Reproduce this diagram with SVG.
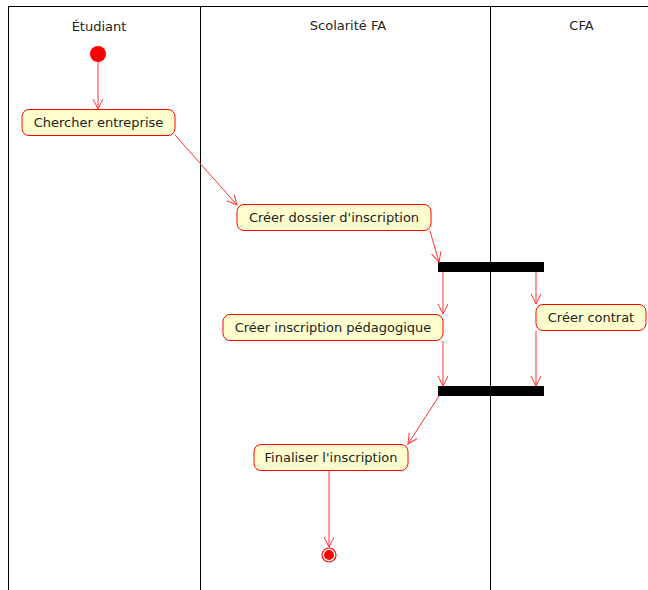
<svg xmlns="http://www.w3.org/2000/svg" width="648" height="590" viewBox="0 0 648 590">
<defs>
<style>
.lane{stroke:#000;stroke-width:1;fill:none}
.title{font-family:"DejaVu Sans",sans-serif;font-size:13px;fill:#222;text-anchor:middle}
.act rect{fill:#fefece;stroke:#ff0000;stroke-width:1}
.act text{font-family:"DejaVu Sans",sans-serif;font-size:13px;fill:#222;text-anchor:middle}
.bar{fill:#000}
.conn line{stroke:#ff3333;stroke-width:1;fill:none;marker-end:url(#ah)}
</style>
<marker id="ah" markerWidth="14" markerHeight="12" refX="10" refY="5" orient="auto" markerUnits="userSpaceOnUse">
<path d="M0,0 L10,5 L0,10" fill="none" stroke="#ff3333" stroke-width="1"/>
</marker>
</defs>
<rect width="648" height="590" fill="#fff"/>
<g id="lanes">
<line class="lane" x1="8" y1="6.5" x2="648" y2="6.5"/>
<line class="lane" x1="8.5" y1="6" x2="8.5" y2="590"/>
<line class="lane" x1="200.5" y1="6" x2="200.5" y2="590"/>
<line class="lane" x1="490.5" y1="6" x2="490.5" y2="590"/>
<text class="title" x="99" y="31">Étudiant</text>
<text class="title" x="348" y="30">Scolarité FA</text>
<text class="title" x="581.5" y="30">CFA</text>
</g>
<g id="start"><circle cx="98" cy="54" r="8" fill="#ff0000"/></g>
<g id="chercher" class="act"><rect x="22" y="109.5" width="153" height="26" rx="7"/><text x="98.5" y="127">Chercher entreprise</text></g>
<g id="dossier" class="act"><rect x="237" y="204.5" width="194" height="26" rx="7"/><text x="334" y="222">Créer dossier d'inscription</text></g>
<g id="fork"><rect class="bar" x="438" y="262" width="106" height="10"/></g>
<g id="pedago" class="act"><rect x="223" y="314.5" width="220" height="26" rx="7"/><text x="333" y="332">Créer inscription pédagogique</text></g>
<g id="contrat" class="act"><rect x="536" y="304.5" width="110" height="26" rx="7"/><text x="591" y="322">Créer contrat</text></g>
<g id="join"><rect class="bar" x="438" y="386" width="106" height="10"/></g>
<g id="finaliser" class="act"><rect x="254" y="444.5" width="154" height="26" rx="7"/><text x="331" y="462">Finaliser l'inscription</text></g>
<g id="end"><circle cx="329" cy="555" r="7" fill="none" stroke="#ff0000" stroke-width="1.2"/><circle cx="329" cy="555" r="5" fill="#ff0000"/></g>
<g id="connectors" class="conn">
<line x1="98" y1="62" x2="98" y2="109"/>
<line x1="175" y1="135" x2="237" y2="205"/>
<line x1="430" y1="231" x2="439" y2="262"/>
<line x1="443" y1="272" x2="443" y2="314"/>
<line x1="536" y1="272" x2="536" y2="304"/>
<line x1="443" y1="341" x2="443" y2="386"/>
<line x1="536" y1="331" x2="536" y2="386"/>
<line x1="439" y1="396" x2="408" y2="444"/>
<line x1="329" y1="471" x2="329" y2="547"/>
</g>
</svg>
